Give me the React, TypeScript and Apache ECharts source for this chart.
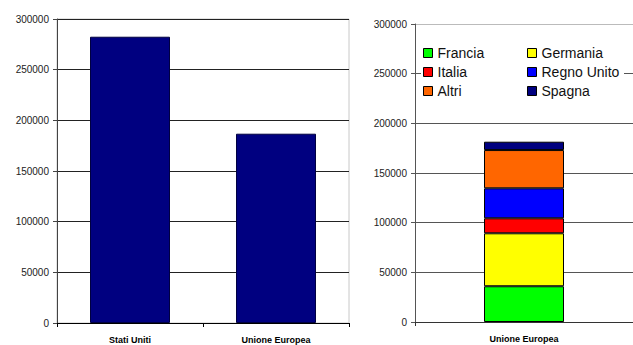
import React, { useEffect, useRef } from "react";
import * as echarts from "echarts";

const leftCategories = ["Stati Uniti", "Unione Europea"];
const leftValues = [282500, 186800];

const rightCategories = ["Unione Europea"];
const euCountries = ["Francia", "Germania", "Italia", "Regno Unito", "Altri", "Spagna"];
const euValues = [36000, 53300, 15100, 30200, 38500, 8400];
const euColors = ["#00ff00", "#ffff00", "#ff0000", "#0000ff", "#ff6600", "#000080"];

const legendCol1 = ["Francia", "Italia", "Altri"];
const legendCol2 = ["Germania", "Regno Unito", "Spagna"];

const FONT = "Liberation Sans, Arial, sans-serif";

export default function App() {
  const ref = useRef<HTMLDivElement>(null);
  useEffect(() => {
    if (!ref.current) return;
    const chart = echarts.init(ref.current, undefined, { renderer: "svg" });
    const yLabel = { fontSize: 10, color: "#222", fontFamily: FONT, margin: 8, formatter: (v: number) => String(v) };
    const xLabel = { fontSize: 9, color: "#000", fontFamily: FONT, margin: 12, fontWeight: "bold" as const };
    const legendBase = {
      orient: "vertical" as const,
      top: 46,
      itemWidth: 9,
      itemHeight: 9,
      itemGap: 5,
      icon: "rect",
      itemStyle: { borderColor: "#000", borderWidth: 1 },
      textStyle: { fontSize: 14, color: "#111", fontFamily: FONT },
      selectedMode: false,
      padding: 0,
      z: 5,
    };
    chart.setOption({
      animation: false,
      backgroundColor: "#fff",
      grid: [
        { left: 57, top: 19, width: 292, height: 304, show: true, borderColor: "#c8c8c8", borderWidth: 1, backgroundColor: "transparent" },
        { left: 415, top: 24, width: 224, height: 298 },
      ],
      graphic: [
        { type: "rect", shape: { x: 421, y: 42, width: 203, height: 62 }, style: { fill: "#fff" }, z: 3 },
      ],
      legend: [
        { ...legendBase, left: 423, data: legendCol1 },
        { ...legendBase, left: 527, data: legendCol2 },
      ],
      xAxis: [
        {
          gridIndex: 0,
          type: "category",
          data: leftCategories,
          axisLine: { lineStyle: { color: "#000" } },
          axisTick: { show: true, length: 4, lineStyle: { color: "#000" } },
          axisLabel: xLabel,
        },
        {
          gridIndex: 1,
          type: "category",
          data: rightCategories,
          axisLine: { lineStyle: { color: "#333" } },
          axisTick: { show: true, length: 4, lineStyle: { color: "#333" } },
          axisLabel: xLabel,
        },
      ],
      yAxis: [
        {
          gridIndex: 0,
          type: "value",
          min: 0,
          max: 300000,
          interval: 50000,
          axisLine: { show: true, lineStyle: { color: "#444" } },
          axisTick: { show: true, length: 4, lineStyle: { color: "#444" } },
          axisLabel: yLabel,
          splitLine: { lineStyle: { color: "#222" } },
        },
        {
          gridIndex: 1,
          type: "value",
          min: 0,
          max: 300000,
          interval: 50000,
          axisLine: { show: true, lineStyle: { color: "#555" } },
          axisTick: { show: true, length: 4, lineStyle: { color: "#555" } },
          axisLabel: yLabel,
          splitLine: { lineStyle: { color: ["#555", "#555", "#555", "#555", "#555", "#555", "#bbb"] } },
        },
      ],
      series: [
        {
          type: "bar",
          xAxisIndex: 0,
          yAxisIndex: 0,
          data: leftValues,
          barWidth: 80,
          itemStyle: { color: "#000080", borderColor: "#000040", borderWidth: 1 },
          z: 2,
        },
        ...euCountries.map((name, i) => ({
          type: "bar",
          name,
          stack: "eu",
          xAxisIndex: 1,
          yAxisIndex: 1,
          data: [euValues[i]],
          barWidth: 80,
          itemStyle: { color: euColors[i], borderColor: "#000", borderWidth: 1 },
          z: 2,
        })),
      ],
    });
    return () => chart.dispose();
  }, []);
  return <div ref={ref} style={{ position: "absolute", left: 0, top: 0, width: 633, height: 345 }} />;
}
